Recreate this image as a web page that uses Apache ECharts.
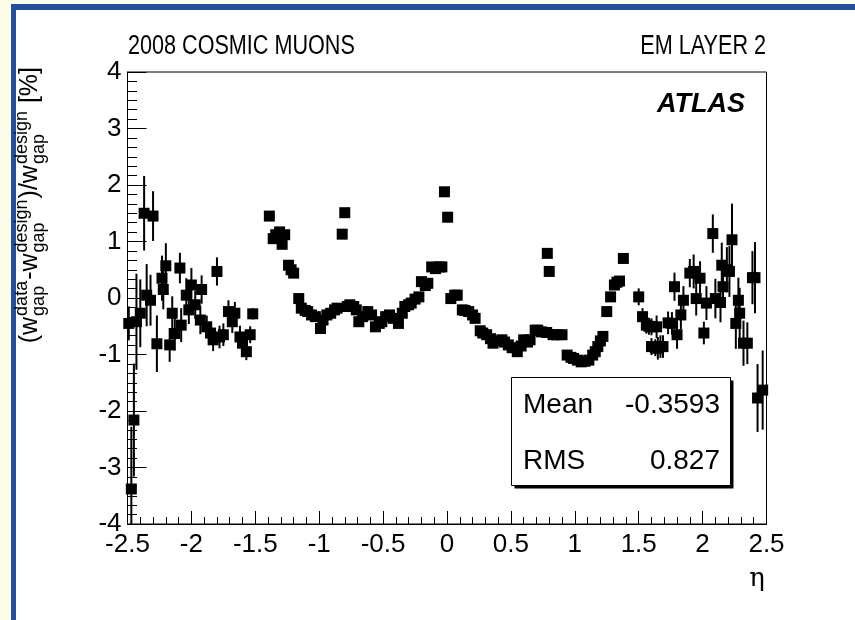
<!DOCTYPE html>
<html>
<head>
<meta charset="utf-8">
<script src="https://cdn.jsdelivr.net/npm/echarts@6/dist/echarts.min.js"></script>
<style>
  html, body { margin: 0; padding: 0; background: #fcfde9; }
  #chart { width: 855px; height: 620px; }
</style>
</head>
<body>
<div id="chart"></div>
<script>
// Gap width deviation from design, EM calorimeter layer 2, 2008 cosmic muon data
const eta = [
  -2.49, -2.47, -2.45, -2.43, -2.40, -2.37, -2.35, -2.32, -2.30, -2.27,
  -2.23, -2.22, -2.20, -2.17, -2.15, -2.13, -2.09, -2.08, -2.04, -2.02,
  -2.00, -1.97, -1.93, -1.92, -1.88, -1.85, -1.83, -1.80, -1.78, -1.75,
  -1.71, -1.68, -1.66, -1.62, -1.60, -1.57, -1.54, -1.52,
  -1.39, -1.36, -1.34, -1.31, -1.29, -1.27, -1.24, -1.22, -1.20, -1.16,
  -1.14, -1.11, -1.09, -1.06, -1.03, -0.99, -0.97, -0.94, -0.91, -0.88,
  -0.86, -0.82, -0.80, -0.78, -0.76, -0.73, -0.71, -0.69, -0.66, -0.62,
  -0.59, -0.56, -0.53, -0.51, -0.48, -0.45, -0.42, -0.38, -0.35, -0.33,
  -0.30, -0.28, -0.25, -0.22, -0.20, -0.17, -0.15, -0.12, -0.09, -0.06,
  -0.04, -0.02, 0.005, 0.03, 0.06, 0.08, 0.12, 0.14, 0.17, 0.20,
  0.22, 0.26, 0.28, 0.31, 0.34, 0.36, 0.39, 0.43, 0.45, 0.48,
  0.51, 0.55, 0.58, 0.60, 0.63, 0.65, 0.69, 0.71, 0.74, 0.78,
  0.785, 0.80, 0.83, 0.86, 0.90, 0.94, 0.97, 0.99, 1.02, 1.05,
  1.08, 1.11, 1.14, 1.16, 1.18, 1.20, 1.22, 1.25, 1.28, 1.31,
  1.33, 1.35, 1.38,
  1.50, 1.53, 1.56, 1.58, 1.60, 1.60, 1.63, 1.64, 1.65, 1.67,
  1.69, 1.73, 1.76, 1.78, 1.80, 1.83, 1.85, 1.90, 1.93, 1.95,
  1.98, 2.01, 2.03, 2.08, 2.10, 2.14, 2.15, 2.16, 2.19, 2.21,
  2.23, 2.26, 2.28, 2.29, 2.32, 2.35, 2.39, 2.41, 2.43, 2.47
];
const deviation = [
  -0.45, -3.38, -2.16, -0.42, -0.27, 1.50, 0.05, -0.04, 1.45, -0.81,
  0.35, 0.15, 0.57, -0.83, -0.27, -0.63, 0.53, -0.48, 0.05, -0.21,
  0.23, -0.12, -0.39, 0.15, -0.51, -0.62, -0.74, 0.47, -0.69, -0.65,
  -0.24, -0.42, -0.27, -0.69, -0.80, -0.95, -0.65, -0.28,
  1.45, 1.05, 1.12, 1.17, 0.95, 1.12, 0.58, 0.50, 0.44, -0.01,
  -0.18, -0.22, -0.24, -0.30, -0.33, -0.54, -0.39, -0.30, -0.27, -0.21,
  -0.18, 1.13, 1.51, -0.15, -0.12, -0.15, -0.21, -0.42, -0.33, -0.24,
  -0.30, -0.51, -0.45, -0.42, -0.33, -0.30, -0.36, -0.45, -0.27, -0.15,
  -0.12, -0.09, -0.02, 0.02, 0.29, 0.22, 0.26, 0.55, 0.52, 0.55,
  0.55, 1.88, 1.43, -0.01, 0.05, 0.05, -0.21, -0.22, -0.24, -0.30,
  -0.36, -0.58, -0.62, -0.65, -0.72, -0.80, -0.76, -0.74, -0.78, -0.83,
  -0.88, -0.95, -0.85, -0.74, -0.78, -0.74, -0.57, -0.57, -0.60, -0.61,
  0.79, 0.47, -0.65, -0.65, -0.65, -1.01, -1.05, -1.07, -1.10, -1.13,
  -1.12, -1.10, -1.01, -0.95, -0.86, -0.76, -0.68, -0.24, 0.02, 0.23,
  0.28, 0.30, 0.70,
  0.02, -0.33, -0.48, -0.50, -0.51, -0.86, -0.88, -0.51, -0.89, -0.86,
  -0.86, -0.44, -0.45, 0.20, -0.65, -0.30, -0.04, 0.44, 0.47, -0.01,
  0.35, -0.62, -0.09, 1.14, -0.01, -0.08, 0.58, 0.20, 0.50, 0.47,
  1.03, -0.45, -0.04, -0.27, -0.80, -0.80, 0.36, 0.36, -1.77, -1.63
];
const error = [
  0.30, 1.10, 1.00, 0.85, 0.60, 0.66, 0.55, 0.45, 0.44, 0.50,
  0.40, 0.35, 0.40, 0.30, 0.30, 0.30, 0.27, 0.30, 0.30, 0.25,
  0.30, 0.25, 0.25, 0.25, 0.20, 0.20, 0.20, 0.25, 0.20, 0.20,
  0.20, 0.20, 0.20, 0.20, 0.20, 0.15, 0.15, 0.10,
  0.05, 0.05, 0.05, 0.05, 0.05, 0.05, 0.05, 0.05, 0.05, 0.05,
  0.05, 0.05, 0.05, 0.05, 0.05, 0.05, 0.05, 0.05, 0.05, 0.05,
  0.05, 0.05, 0.05, 0.05, 0.05, 0.05, 0.05, 0.05, 0.05, 0.05,
  0.05, 0.05, 0.05, 0.05, 0.05, 0.05, 0.05, 0.05, 0.05, 0.05,
  0.05, 0.05, 0.05, 0.05, 0.05, 0.05, 0.05, 0.05, 0.05, 0.05,
  0.05, 0.05, 0.05, 0.05, 0.05, 0.05, 0.05, 0.05, 0.05, 0.05,
  0.05, 0.05, 0.05, 0.05, 0.05, 0.05, 0.05, 0.05, 0.05, 0.05,
  0.05, 0.05, 0.05, 0.05, 0.05, 0.05, 0.05, 0.05, 0.05, 0.05,
  0.05, 0.05, 0.05, 0.05, 0.05, 0.05, 0.05, 0.05, 0.05, 0.05,
  0.05, 0.05, 0.05, 0.05, 0.05, 0.05, 0.05, 0.05, 0.05, 0.05,
  0.05, 0.05, 0.08,
  0.15, 0.15, 0.15, 0.15, 0.15, 0.15, 0.15, 0.20, 0.20, 0.20,
  0.20, 0.20, 0.20, 0.25, 0.25, 0.25, 0.25, 0.25, 0.30, 0.30,
  0.30, 0.20, 0.30, 0.34, 0.35, 0.35, 0.40, 0.35, 0.40, 0.45,
  0.64, 0.45, 0.40, 0.45, 0.40, 0.37, 0.47, 0.63, 0.60, 0.70
];

const statLabels = ['Mean', 'RMS'];
const statValues = ['-0.3593', '0.827'];

const points = eta.map((e, i) => [e, deviation[i], error[i]]);

// text width helper for the hand-built axis title
const mctx = document.createElement('canvas').getContext('2d');
function textWidth(s, size) {
  mctx.font = size + 'px "Liberation Sans"';
  return mctx.measureText(s).width;
}

// (w^data_gap - w^design_gap)/w^design_gap [%], laid out along a rotated baseline
function buildYTitle() {
  const main = 25, small = 18;
  const pieces = [
    { t: '(w' },
    { sup: 'data', sub: 'gap' },
    { t: '-w' },
    { sup: 'design', sub: 'gap' },
    { t: ')/w' },
    { sup: 'design', sub: 'gap' },
    { t: ' [%]' }
  ];
  const children = [];
  let x = 0;
  // y of a text's middle line for a given baseline offset
  const mid = (base, size) => base - 0.35 * size;
  const txt = (s, px, base, size) => ({
    type: 'text', x: px, y: mid(base, size),
    style: { text: s, fontSize: size, fontFamily: 'Liberation Sans', fill: '#000', verticalAlign: 'middle' }
  });
  pieces.forEach(p => {
    if (p.t) {
      children.push(txt(p.t, x, 0, main));
      x += textWidth(p.t, main);
    } else {
      children.push(txt(p.sup, x + 1, -11, small));
      children.push(txt(p.sub, x + 1, 6, small));
      x += Math.max(textWidth(p.sup, small), textWidth(p.sub, small)) + 2;
    }
  });
  return { type: 'group', rotation: Math.PI / 2, x: 39, y: 67 + x, children: children, z: 10 };
}

const chart = echarts.init(document.getElementById('chart'), null, { renderer: 'canvas' });

const grid = { left: 127.5, top: 72, width: 639, height: 452 };

chart.setOption({
  animation: false,
  backgroundColor: '#fcfde9',
  grid: Object.assign({ show: true, borderColor: '#000', borderWidth: 1, backgroundColor: 'transparent' }, grid),
  xAxis: {
    type: 'value', min: -2.5, max: 2.5, interval: 0.5,
    axisLine: { show: true, onZero: false, lineStyle: { color: '#000', width: 1 } },
    axisTick: { show: true, inside: true, length: 13, lineStyle: { color: '#000' } },
    minorTick: { show: true, splitNumber: 5, length: 7, lineStyle: { color: '#000' } },
    splitLine: { show: false },
    axisLabel: { fontFamily: 'Liberation Sans', fontSize: 26, color: '#000', margin: 8, showMinLabel: true, showMaxLabel: true }
  },
  yAxis: {
    type: 'value', min: -4, max: 4, interval: 1,
    axisLine: { show: true, onZero: false, lineStyle: { color: '#000', width: 1 } },
    axisTick: { show: true, inside: true, length: 19, lineStyle: { color: '#000' } },
    minorTick: { show: true, splitNumber: 6, length: 9.5, lineStyle: { color: '#000' } },
    splitLine: { show: false },
    axisLabel: { fontFamily: 'Liberation Sans', fontSize: 26, color: '#000', margin: 6, showMinLabel: true, showMaxLabel: true }
  },
  series: [
    {
      type: 'custom',
      clip: true,
      data: points,
      renderItem: function (params, api) {
        const x = api.value(0), y = api.value(1), e = api.value(2);
        const a = api.coord([x, y - e]);
        const b = api.coord([x, y + e]);
        return { type: 'line', shape: { x1: a[0], y1: a[1], x2: b[0], y2: b[1] }, style: { stroke: '#000', lineWidth: 2 } };
      },
      z: 3
    },
    {
      type: 'scatter',
      data: points,
      symbol: 'rect',
      symbolSize: 11,
      itemStyle: { color: '#000', opacity: 1 },
      z: 4
    }
  ],
  graphic: [
    // canvas frame: blue border along the left and top, white pad
    { type: 'rect', shape: { x: 11, y: 4, width: 844, height: 616 }, style: { fill: '#23509e' }, z: -10 },
    { type: 'rect', shape: { x: 16, y: 10, width: 839, height: 610 }, style: { fill: '#ffffff' }, z: -9 },
    { type: 'text', x: 128, y: 47, scaleX: 0.8, style: { text: '2008 COSMIC MUONS', fontFamily: 'Liberation Sans', fontSize: 27, fill: '#000', verticalAlign: 'middle' }, z: 10 },
    { type: 'text', x: 766, y: 47, scaleX: 0.8, style: { text: 'EM LAYER 2', fontFamily: 'Liberation Sans', fontSize: 27, fill: '#000', align: 'right', verticalAlign: 'middle' }, z: 10 },
    { type: 'text', x: 745, y: 105, style: { text: 'ATLAS', fontFamily: 'Liberation Sans', fontSize: 27, fontWeight: 'bold', fontStyle: 'italic', fill: '#000', align: 'right', verticalAlign: 'middle' }, z: 10 },
    { type: 'text', x: 757, y: 579, style: { text: 'η', fontFamily: 'DejaVu Serif', fontSize: 26, fill: '#000', align: 'center', verticalAlign: 'middle' }, z: 10 },
    // statistics box with drop shadow
    { type: 'rect', shape: { x: 514.5, y: 380.5, width: 219, height: 108 }, style: { fill: '#000' }, z: 8 },
    { type: 'rect', shape: { x: 511.5, y: 377.5, width: 219, height: 108 }, style: { fill: '#fff', stroke: '#000', lineWidth: 1 }, z: 9 },
    { type: 'text', x: 523, y: 405, style: { text: statLabels[0], fontFamily: 'Liberation Sans', fontSize: 28, fill: '#000', verticalAlign: 'middle' }, z: 10 },
    { type: 'text', x: 720, y: 405, style: { text: statValues[0], fontFamily: 'Liberation Sans', fontSize: 28, fill: '#000', align: 'right', verticalAlign: 'middle' }, z: 10 },
    { type: 'text', x: 523, y: 461, style: { text: statLabels[1], fontFamily: 'Liberation Sans', fontSize: 28, fill: '#000', verticalAlign: 'middle' }, z: 10 },
    { type: 'text', x: 720, y: 461, style: { text: statValues[1], fontFamily: 'Liberation Sans', fontSize: 28, fill: '#000', align: 'right', verticalAlign: 'middle' }, z: 10 },
    buildYTitle()
  ]
});
</script>
</body>
</html>
